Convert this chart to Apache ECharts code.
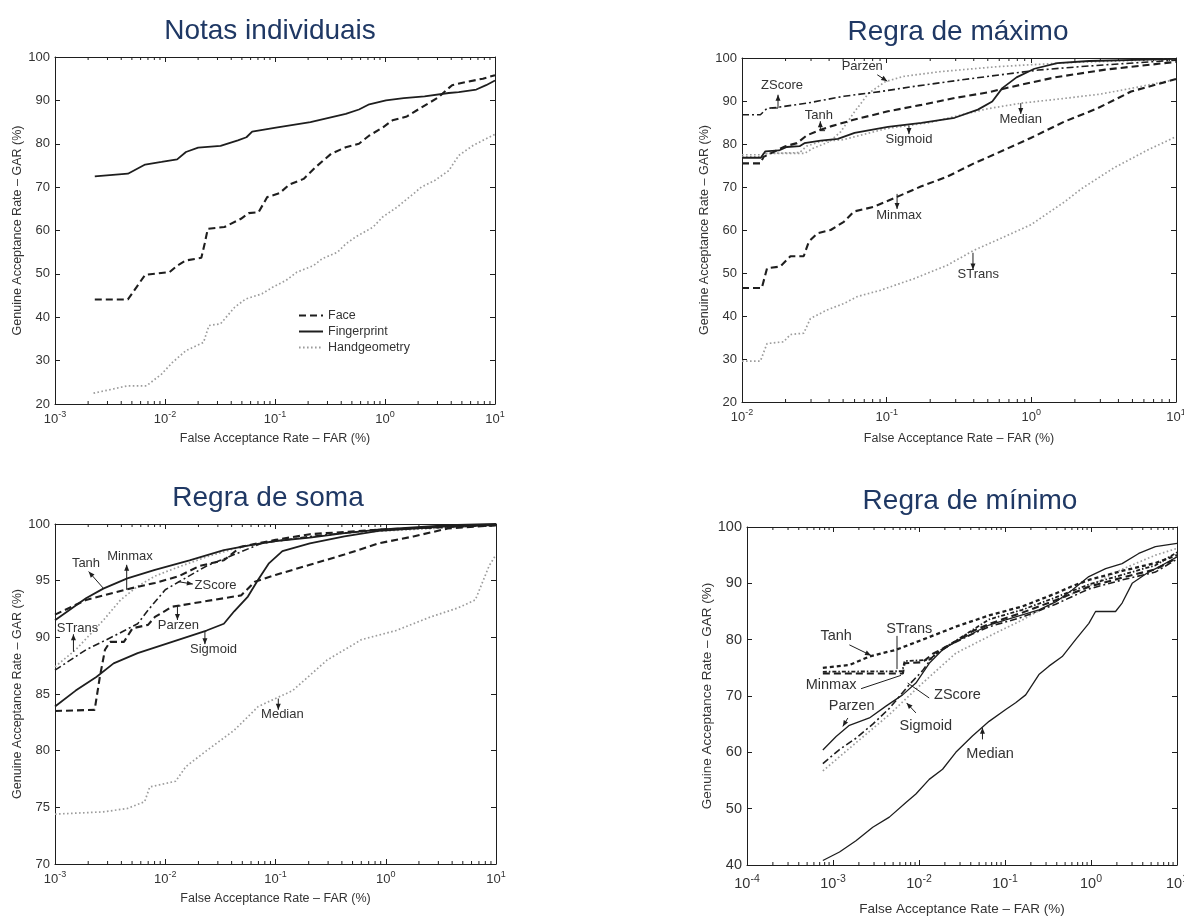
<!DOCTYPE html>
<html><head><meta charset="utf-8">
<script src="https://cdn.jsdelivr.net/npm/echarts@6/dist/echarts.min.js"></script>
<style>html,body{margin:0;padding:0;background:#fff}#c{width:1184px;height:918px}</style>
</head><body><div id="c"></div>
<script>
// ---------- DATA: [FAR (%), GAR (%)] ----------
// Panel 1: Notas individuais
const P1_FACE = [[0.0023,44.1],[0.0046,44.1],[0.0066,49.8],[0.011,50.4],[0.0129,51.9],[0.0155,53.1],[0.0214,53.7],[0.0229,56.9],[0.0245,60.4],[0.0347,60.8],[0.049,62.7],[0.0575,64.0],[0.0708,64.2],[0.085,67.7],[0.11,68.6],[0.135,70.6],[0.182,71.9],[0.234,74.6],[0.324,77.7],[0.44,79.2],[0.58,80.0],[0.72,81.9],[0.95,83.7],[1.17,85.4],[1.58,86.3],[2.29,88.8],[3.02,90.6],[4.07,93.5],[5.37,94.2],[7.76,95.0],[10,95.8]];
const P1_FINGER = [[0.0023,72.5],[0.0046,73.1],[0.0066,75.2],[0.0093,75.8],[0.0129,76.4],[0.0155,78.1],[0.020,79.1],[0.032,79.5],[0.046,80.8],[0.055,81.5],[0.062,82.8],[0.102,83.7],[0.21,85.0],[0.44,86.9],[0.58,87.9],[0.72,89.1],[1.02,90.0],[1.48,90.5],[2.29,90.9],[3.8,91.7],[4.68,91.9],[6.76,92.5],[8.3,93.5],[10,94.6]];
const P1_HAND = [[0.00224,22.5],[0.0046,24.2],[0.0068,24.2],[0.0093,26.9],[0.0117,29.6],[0.0155,32.3],[0.0224,34.2],[0.0251,38.1],[0.032,38.5],[0.043,42.3],[0.054,44.2],[0.076,45.4],[0.095,46.9],[0.126,48.5],[0.158,50.4],[0.224,51.9],[0.269,53.5],[0.37,55.0],[0.44,56.9],[0.54,58.5],[0.78,60.8],[0.95,63.1],[1.29,65.4],[1.82,68.5],[2.14,70.0],[2.82,71.5],[3.8,73.8],[4.68,77.3],[6.31,79.6],[10,82.2]];

// Panel 2: Regra de máximo
const P2_ZSCORE = [[0.01,86.8],[0.0134,86.8],[0.0149,88.3],[0.0174,88.5],[0.0282,89.5],[0.0506,91.1],[0.0908,92.2],[0.155,93.4],[0.343,95.0],[0.76,96.5],[1.12,97.2],[2.2,98.0],[3.24,98.4],[10,99.5]];
const P2_TANH = [[0.01,75.5],[0.0134,75.5],[0.0141,77.0],[0.02,79.5],[0.024,80.2],[0.028,82.0],[0.035,83.3],[0.041,84.1],[0.06,85.7],[0.102,87.6],[0.174,89.1],[0.295,90.7],[0.5,92.0],[0.85,93.8],[1.46,95.5],[3.24,97.3],[10,99.1]];
const P2_SIGMOID = [[0.01,76.8],[0.0135,76.8],[0.0145,78.3],[0.018,78.5],[0.0204,79.3],[0.025,79.5],[0.027,80.2],[0.035,80.8],[0.046,81.2],[0.06,82.6],[0.102,84.0],[0.174,84.9],[0.295,86.1],[0.427,88.0],[0.537,89.9],[0.63,93.0],[0.79,95.5],[1.05,97.5],[1.51,98.8],[2.5,99.3],[10,99.8]];
const P2_PARZEN = [[0.01,77.5],[0.0135,77.5],[0.015,77.8],[0.027,77.8],[0.031,79.0],[0.04,80.5],[0.048,82.8],[0.06,87.5],[0.075,91.8],[0.098,94.5],[0.13,95.7],[0.23,96.8],[0.59,98.0],[2,99.0],[10,99.7]];
const P2_MEDIAN = [[0.01,77.0],[0.0135,77.0],[0.0145,77.8],[0.025,78.0],[0.028,79.5],[0.035,80.6],[0.05,81.0],[0.1,83.6],[0.2,85.0],[0.35,87.0],[0.5,88.2],[0.85,89.5],[1.5,90.4],[3,91.6],[5,93.0],[10,95.0]];
const P2_MINMAX = [[0.01,46.5],[0.0137,46.5],[0.0149,51.1],[0.0184,51.5],[0.0216,53.9],[0.0267,53.9],[0.029,57.3],[0.0331,59.2],[0.041,60.0],[0.0506,61.9],[0.0593,64.3],[0.0817,65.4],[0.118,67.7],[0.172,70.1],[0.262,72.4],[0.402,75.5],[0.583,77.9],[0.99,81.4],[1.69,85.2],[2.87,88.3],[4.89,92.2],[10,95.1]];
const P2_STRANS = [[0.01,29.5],[0.0134,29.5],[0.0149,33.6],[0.0194,34.0],[0.0216,35.7],[0.0267,36.0],[0.0297,39.4],[0.0387,41.4],[0.0506,42.9],[0.0625,44.5],[0.0908,46.0],[0.155,48.7],[0.262,51.8],[0.402,55.3],[0.583,57.7],[0.99,61.2],[1.69,66.5],[2.2,69.5],[3.74,74.5],[6.37,78.6],[10,81.7]];

// Panel 3: Regra de soma
const P3_TANH = [[0.001,91.5],[0.00191,93.45],[0.00274,94.3],[0.00453,95.2],[0.00806,95.96],[0.0166,96.8],[0.034,97.7],[0.0562,98.1],[0.1,98.5],[0.205,98.8],[0.422,99.2],[0.866,99.5],[3.65,99.9],[10,100]];
const P3_MINMAX = [[0.001,92.0],[0.00191,93.3],[0.00453,94.25],[0.00806,94.8],[0.0133,95.4],[0.0205,96.3],[0.034,96.8],[0.0487,98.0],[0.1,98.6],[0.205,99.1],[0.866,99.5],[10,99.9]];
const P3_STRANS = [[0.001,87.4],[0.00154,88.9],[0.00274,91.5],[0.00393,93.3],[0.00562,94.5],[0.00806,95.4],[0.01155,96.0],[0.0237,97.1],[0.0487,98.0],[0.1,98.5],[0.422,99.2],[10,99.9]];
const P3_ZSCORE = [[0.001,87.1],[0.00191,88.9],[0.0034,90.1],[0.00562,91.2],[0.00698,92.4],[0.01,94.2],[0.0133,94.9],[0.0237,96.3],[0.0422,97.3],[0.075,98.3],[0.205,98.9],[0.866,99.5],[10,99.9]];
const P3_PARZEN = [[0.001,83.5],[0.00229,83.6],[0.00255,86.5],[0.00284,88.9],[0.00316,89.6],[0.00422,89.6],[0.00505,90.8],[0.00698,91.1],[0.00806,91.8],[0.01155,92.7],[0.0237,93.2],[0.0487,93.7],[0.065,94.9],[0.1,95.5],[0.205,96.4],[0.422,97.3],[0.866,98.3],[1.78,98.9],[3.65,99.6],[10,99.9]];
const P3_SIGMOID = [[0.001,83.9],[0.00154,85.3],[0.00237,86.5],[0.0034,87.7],[0.00562,88.6],[0.01155,89.6],[0.0237,90.6],[0.034,91.2],[0.0422,92.3],[0.0562,93.6],[0.0698,95.1],[0.0866,96.5],[0.1155,97.6],[0.205,98.3],[0.422,98.9],[0.866,99.4],[3.65,99.8],[10,99.9]];
const P3_MEDIAN = [[0.001,74.4],[0.00274,74.6],[0.00453,74.9],[0.0065,75.5],[0.00724,76.8],[0.0124,77.3],[0.0154,78.6],[0.0237,80.0],[0.0422,81.8],[0.0698,83.9],[0.1,84.6],[0.143,85.3],[0.294,88.0],[0.604,89.8],[1.24,90.6],[2.55,91.8],[4.53,92.6],[6.49,93.3],[7.5,94.8],[8.66,96.3],[10,97.3]];

// Panel 4: Regra de mínimo
const P4_MEDIAN = [[0.000762,40.8],[0.00119,42.3],[0.00185,44.3],[0.0029,46.7],[0.00452,48.5],[0.00705,51.1],[0.0092,52.6],[0.01315,55.2],[0.0188,57.0],[0.0268,60.0],[0.0418,62.9],[0.0653,65.5],[0.102,67.6],[0.133,68.8],[0.174,70.2],[0.248,73.8],[0.324,75.3],[0.463,77.0],[0.662,80.0],[0.944,82.9],[1.13,85.0],[1.93,85.0],[2.30,86.5],[3.01,90.0],[4.69,92.0],[6.70,93.2],[10,94.7]];
const P4_PARZEN = [[0.000762,60.4],[0.001087,62.8],[0.00155,64.8],[0.00265,66.1],[0.00413,68.2],[0.00645,70.2],[0.0092,72.3],[0.01315,75.8],[0.0188,78.2],[0.0268,79.7],[0.0418,81.1],[0.0653,82.6],[0.102,83.5],[0.159,84.4],[0.248,85.3],[0.388,86.7],[0.605,88.8],[0.944,91.2],[1.48,92.6],[2.30,93.5],[3.59,95.3],[5.61,96.5],[10,97.1]];
const P4_TANH = [[0.000762,75.0],[0.00155,75.5],[0.00265,77.0],[0.0054,78.2],[0.011,80.0],[0.0268,82.3],[0.0653,84.3],[0.159,85.9],[0.388,88.2],[0.605,89.5],[0.944,90.6],[2.30,92.2],[5.61,93.6],[10,95.0]];
const P4_MINMAX = [[0.000762,74.0],[0.0065,74.0],[0.0068,75.8],[0.011,76.0],[0.0145,77.5],[0.0224,79.0],[0.0418,81.5],[0.0653,82.8],[0.159,84.8],[0.388,87.0],[0.944,89.4],[2.30,91.0],[5.61,92.5],[10,94.5]];
const P4_STRANS = [[0.000762,74.3],[0.0064,74.4],[0.0068,76.2],[0.013,76.4],[0.0188,78.4],[0.0268,79.8],[0.0653,83.6],[0.159,85.3],[0.388,87.5],[0.944,89.8],[2.30,91.5],[5.61,93.2],[10,95.5]];
const P4_ZSCORE = [[0.000762,58.0],[0.00119,60.5],[0.00185,62.5],[0.0029,65.0],[0.00452,67.8],[0.0077,72.0],[0.011,74.5],[0.0145,77.0],[0.0224,79.0],[0.0418,81.0],[0.0653,82.3],[0.159,84.0],[0.388,86.3],[0.944,89.0],[2.30,90.6],[5.61,92.0],[10,94.3]];
const P4_SIGMOID = [[0.000762,56.7],[0.00185,61.7],[0.00452,66.7],[0.011,72.3],[0.0268,77.6],[0.0653,80.6],[0.159,83.5],[0.388,86.8],[0.944,89.5],[2.30,92.5],[5.61,95.0],[10,96.2]];

// Annotation texts [text, FAR, GAR] and arrows (point lists, head at the last point)
const P2_LABELS = [['Parzen',0.0678,98.06],['ZScore',0.0189,93.6],['Tanh',0.034,86.6],['Sigmoid',0.1426,81.0],['Median',0.845,85.6],['Minmax',0.1216,63.5],['STrans',0.43,49.7]];
const P2_ARROWS = [[[0.0861,96.1],[0.101,94.6]],[[0.0161,88.35],[0.01774,88.35],[0.01774,91.46]],[[0.0375,83.1],[0.0348,83.1],[0.0348,85.3]],[[0.1426,84.2],[0.1426,82.3]],[[0.845,89.5],[0.845,87.0]],[[0.118,68.4],[0.118,64.9]],[[0.395,54.7],[0.395,50.8]]];
const P3_LABELS = [['Tanh',0.00191,96.55],['Minmax',0.00479,97.1],['ZScore',0.0286,94.54],['Parzen',0.01315,91.03],['Sigmoid',0.0274,88.97],['STrans',0.0016,90.8],['Median',0.1155,83.19]];
const P3_ARROWS = [[[0.00274,94.34],[0.00202,95.8]],[[0.00447,94.19],[0.00447,96.4]],[[0.0133,94.9],[0.0178,94.7]],[[0.0138,92.77],[0.0129,92.77],[0.0129,91.53]],[[0.0229,90.5],[0.0229,89.4]],[[0.00147,88.73],[0.00147,90.27]],[[0.106,84.6],[0.106,83.6]]];
const P4_LABELS = [['Tanh',0.001087,80.67],['STrans',0.0077,81.9],['Minmax',0.00095,71.9],['ZScore',0.028,70.1],['Parzen',0.00165,68.2],['Sigmoid',0.012,64.76],['Median',0.0671,59.75]];
const P4_ARROWS = [[[0.00155,79.08],[0.00277,77.2]],[[0.00149,66.1],[0.0013,64.6]],[[0.0092,67.0],[0.00718,68.77]],[[0.0547,62.3],[0.0547,64.35]]];
const P4_LINES = [[[0.00555,80.67],[0.00555,74.78]],[[0.00212,71.3],[0.00617,73.66]],[[0.01315,69.65],[0.00738,72.3]]];

// Titles and axis texts
const TITLES = ['Notas individuais','Regra de máximo','Regra de soma','Regra de mínimo'];
const X_NAME = 'False Acceptance Rate \u2013 FAR (%)';
const Y_NAME = 'Genuine Acceptance Rate \u2013 GAR (%)';
const LEGEND_NAMES = ['Face','Fingerprint','Handgeometry'];

// ---------- LAYOUT / STYLE ----------
const FONT = 'Liberation Sans, Arial, sans-serif';
const INK = '#1e1e1e';
const SOLID = {color:INK, width:1.8, type:'solid'};
const SOLID_THIN = {color:INK, width:1.3, type:'solid'};
const DASH = {color:INK, width:2.1, type:[7,4]};
const DASH_SHORT = {color:INK, width:2.3, type:[4,3]};
const DOT = {color:'#9c9c9c', width:1.7, type:[1.6,2.4]};
const DASHDOT = {color:INK, width:1.6, type:[7,3,2,3]};
const DASHDOT_DARK = {color:INK, width:1.8, type:[4,2,1.5,2]};

const PANELS = [
  {grid:{left:55,top:57,width:440,height:347}, xmin:0.001, xmax:10, ymin:20, ymax:100, yint:10, xGap:28, yGap:30, xm:6, title:[270,31], tfs:13, nfs:12.5,
   series:[['Face',P1_FACE,DASH],['Fingerprint',P1_FINGER,SOLID],['Handgeometry',P1_HAND,DOT]], labels:[], arrows:[], lines:[]},
  {grid:{left:742,top:58,width:434,height:344}, xmin:0.01, xmax:10, ymin:20, ymax:100, yint:10, xGap:30, yGap:31, xm:6, title:[958,32], tfs:13, nfs:12.5,
   series:[['Median',P2_MEDIAN,DOT],['Parzen',P2_PARZEN,DOT],['STrans',P2_STRANS,DOT],['ZScore',P2_ZSCORE,DASHDOT],['Tanh',P2_TANH,DASH],['Minmax',P2_MINMAX,DASH],['Sigmoid',P2_SIGMOID,SOLID]],
   labels:P2_LABELS, arrows:P2_ARROWS, lines:[], lfs:13},
  {grid:{left:55,top:524,width:441,height:340}, xmin:0.001, xmax:10, ymin:70, ymax:100, yint:5, xGap:28, yGap:30, xm:6, title:[268,498], tfs:13, nfs:12.5,
   series:[['Median',P3_MEDIAN,DOT],['STrans',P3_STRANS,DOT],['ZScore',P3_ZSCORE,DASHDOT],['Parzen',P3_PARZEN,DASH],['Minmax',P3_MINMAX,DASH],['Sigmoid',P3_SIGMOID,SOLID],['Tanh',P3_TANH,SOLID]],
   labels:P3_LABELS, arrows:P3_ARROWS, lines:[], lfs:13},
  {grid:{left:747,top:527,width:430,height:338}, xmin:0.0001, xmax:10, ymin:40, ymax:100, yint:10, xGap:37, yGap:31, xm:9, title:[970,501], tfs:14.5, nfs:13.5,
   series:[['Sigmoid',P4_SIGMOID,DOT],['ZScore',P4_ZSCORE,DASHDOT],['STrans',P4_STRANS,DASHDOT_DARK],['Minmax',P4_MINMAX,DASH],['Tanh',P4_TANH,DASH_SHORT],['Parzen',P4_PARZEN,SOLID_THIN],['Median',P4_MEDIAN,SOLID_THIN]],
   labels:P4_LABELS, arrows:P4_ARROWS, lines:P4_LINES, lfs:14.5}
];

const chart = echarts.init(document.getElementById('c'), null, {renderer:'canvas'});
const grids=[], xAxes=[], yAxes=[], series=[], graphic=[];

function logLabel(v){
  const e = Math.round(Math.log10(v));
  return '{b|10}{s|' + e + '}';
}
const axisLineStyle = {show:true, lineStyle:{color:INK, width:1}};

PANELS.forEach((p, i) => {
  grids.push(Object.assign({outerBoundsMode:'none', containLabel:false}, p.grid));
  xAxes.push({type:'log', logBase:10, gridIndex:i, position:'bottom', min:p.xmin, max:p.xmax, splitNumber:6,
    axisLine:axisLineStyle, axisTick:{inside:true, length:5, lineStyle:{color:INK}}, splitLine:{show:false}, minorTick:{show:false},
    axisLabel:{formatter:logLabel, margin:p.xm, color:'#333', rich:{b:{fontSize:p.tfs, fontFamily:FONT, color:'#333'}, s:{fontSize:p.tfs-4, fontFamily:FONT, color:'#333', verticalAlign:'top', padding:[0,0,9,0]}}},
    name:X_NAME, nameLocation:'middle', nameGap:p.xGap, nameTextStyle:{fontSize:p.nfs, fontFamily:FONT, color:'#333'}});
  xAxes.push({type:'log', logBase:10, gridIndex:i, position:'top', min:p.xmin, max:p.xmax, splitNumber:6,
    axisLine:axisLineStyle, axisTick:{inside:true, length:5, lineStyle:{color:INK}}, splitLine:{show:false}, axisLabel:{show:false}});
  yAxes.push({type:'value', gridIndex:i, position:'left', min:p.ymin, max:p.ymax, interval:p.yint,
    axisLine:axisLineStyle, axisTick:{inside:true, length:5, lineStyle:{color:INK}}, splitLine:{show:false},
    axisLabel:{fontSize:p.tfs, fontFamily:FONT, color:'#333', margin:5},
    name:Y_NAME, nameLocation:'middle', nameRotate:90, nameGap:p.yGap, nameTextStyle:{fontSize:p.nfs, fontFamily:FONT, color:'#333'}});
  yAxes.push({type:'value', gridIndex:i, position:'right', min:p.ymin, max:p.ymax, interval:p.yint,
    axisLine:axisLineStyle, axisTick:{inside:true, length:5, lineStyle:{color:INK}}, splitLine:{show:false}, axisLabel:{show:false}});

  const xi = 2*i, yi = 2*i;
  p.series.forEach(([name, data, ls]) => {
    series.push({type:'line', name:name, xAxisIndex:xi, yAxisIndex:yi, data:data, symbol:'none', showSymbol:false,
      lineStyle:{color:ls.color, width:ls.width, type:ls.type}, itemStyle:{color:ls.color}, silent:true, animation:false, z:3});
  });

  // minor ticks (2..9 within each decade) on bottom and top edges
  const minor = [];
  const e0 = Math.round(Math.log10(p.xmin)), e1 = Math.round(Math.log10(p.xmax));
  for (let e = e0; e < e1; e++) for (let k = 2; k <= 9; k++) minor.push([k*Math.pow(10,e), p.ymin]);
  series.push({type:'custom', name:'minor'+i, xAxisIndex:xi, yAxisIndex:yi, data:minor, silent:true, animation:false, z:4,
    renderItem:(params, api) => {
      const b = api.coord([api.value(0), p.ymin]);
      const t = api.coord([api.value(0), p.ymax]);
      return {type:'group', children:[
        {type:'line', shape:{x1:b[0], y1:b[1], x2:b[0], y2:b[1]-3}, style:{stroke:INK, lineWidth:1}},
        {type:'line', shape:{x1:t[0], y1:t[1], x2:t[0], y2:t[1]+3}, style:{stroke:INK, lineWidth:1}}
      ]};
    }});

  if (p.labels.length) {
    series.push({type:'custom', name:'lab'+i, xAxisIndex:xi, yAxisIndex:yi, data:p.labels.map(l => [l[1], l[2]]), silent:true, animation:false, z:6,
      renderItem:(params, api) => {
        const c = api.coord([api.value(0), api.value(1)]);
        return {type:'text', x:c[0], y:c[1], style:{text:p.labels[params.dataIndex][0], align:'center', verticalAlign:'middle', fill:'#333', fontSize:p.lfs, fontFamily:FONT}};
      }});
  }
  const mkArrow = (list, head, nm) => {
    series.push({type:'custom', name:nm, xAxisIndex:xi, yAxisIndex:yi, data:list.map(a => [a[0][0], a[0][1]]), silent:true, animation:false, z:6,
      renderItem:(params, api) => {
        const pts = list[params.dataIndex].map(q => api.coord(q));
        const children = [{type:'polyline', shape:{points:pts}, style:{stroke:INK, lineWidth:1, fill:null}}];
        if (head) {
          const a = pts[pts.length-2], b = pts[pts.length-1];
          let dx = b[0]-a[0], dy = b[1]-a[1]; const L = Math.hypot(dx,dy) || 1; dx/=L; dy/=L;
          const hl = 6, hw = 2.5, bx = b[0]-dx*hl, by = b[1]-dy*hl;
          children.push({type:'polygon', shape:{points:[[b[0],b[1]],[bx-dy*hw, by+dx*hw],[bx+dy*hw, by-dx*hw]]}, style:{fill:INK}});
        }
        return {type:'group', children};
      }});
  };
  if (p.arrows.length) mkArrow(p.arrows, true, 'arr'+i);
  if (p.lines.length) mkArrow(p.lines, false, 'lin'+i);

  graphic.push({type:'text', x:p.title[0], y:p.title[1], style:{text:TITLES[i], fontSize:28, fontFamily:FONT, fill:'#1f3864', align:'center', verticalAlign:'middle'}});
});

chart.setOption({
  backgroundColor:'#fff',
  animation:false,
  grid:grids, xAxis:xAxes, yAxis:yAxes, series:series, graphic:graphic,
  legend:{data:LEGEND_NAMES, orient:'vertical', left:293, top:304, itemWidth:24, itemHeight:10, itemGap:3, selectedMode:false,
    itemStyle:{opacity:0}, textStyle:{fontSize:12.5, fontFamily:FONT, color:'#333'}}
});
</script></body></html>
